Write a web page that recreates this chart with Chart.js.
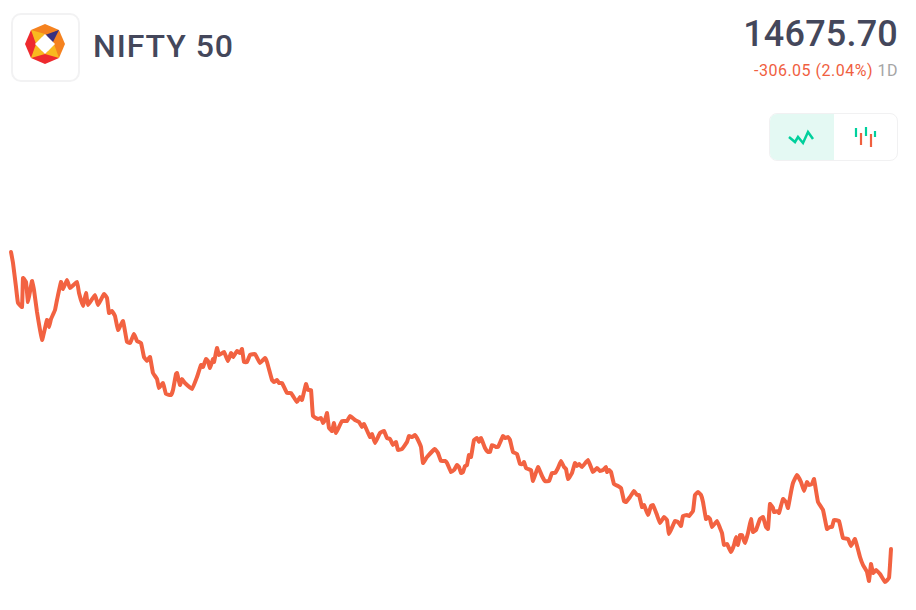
<!DOCTYPE html>
<html lang="en">
<head>
<meta charset="UTF-8">
<title>NIFTY 50</title>
<script src="https://cdn.jsdelivr.net/npm/chart.js"></script>
<style>
  html, body { margin: 0; padding: 0; background: #fff; }
  body { width: 916px; height: 610px; position: relative; overflow: hidden; font-family: Roboto, sans-serif; }
  .logo { position: absolute; left: 11px; top: 13px; width: 65px; height: 65px; border: 2px solid #f2f2f3; border-radius: 10px; }
  .name { position: absolute; left: 93px; top: 27px; font-size: 32px; line-height: 38px; font-weight: 500; letter-spacing: .95px; color: #44475b; }
  .price { position: absolute; right: 18px; top: 13px; font-size: 36px; line-height: 42px; font-weight: 500; letter-spacing: .2px; color: #44475b; }
  .change { position: absolute; right: 18px; top: 62px; font-size: 16px; line-height: 18px; letter-spacing: .5px; color: #f0603f; }
  .change span { color: #a5a5a5; }
  .toggle { position: absolute; left: 769px; top: 113px; width: 127px; height: 46px; border: 1px solid #f1f1f2; border-radius: 8px; overflow: hidden; }
  .toggle div { position: absolute; top: 0; height: 46px; }
  .toggle .on { left: 0; width: 64px; background: #e4f9f3; }
  #chart { position: absolute; left: 0; top: 200px; }
</style>
</head>
<body>
<div class="logo">
  <svg width="65" height="65" viewBox="13 15 65 65" style="display:block">
    <polygon points="45,24 59,30 52,37 45,37 38,37 31,30" fill="#f5821f"/>
    <polygon points="59,30 65,44 59,58 51,51 52,37" fill="#f5821f"/>
    <polygon points="31,30 25,44 31,58 38,51 38,37" fill="#ee2a2e"/>
    <polygon points="31,58 45,64 59,58 51,51 39,51" fill="#ee2a2e"/>
    <polygon points="59,30 45,35 52,37" fill="#38307f"/>
    <polygon points="59,30 52,44 46,36" fill="#38307f"/>
    <polygon points="31,30 45,34 36,44" fill="#f9b91f"/>
    <polygon points="31,58 36,44 45,54" fill="#f9b91f"/>
    <polygon points="59,58 54,44 45,54" fill="#f9b91f"/>
    <polygon points="45,34 55,44 45,54 35,44" fill="#fff"/>
  </svg>
</div>
<div class="name">NIFTY 50</div>
<div class="price">14675.70</div>
<div class="change">-306.05 (2.04%) <span>1D</span></div>
<div class="toggle">
  <div class="on"></div>
  <svg width="127" height="46" style="position:absolute;left:0;top:0">
    <polyline points="19,23 25,28 28,23 33,29 38,18 43,25" fill="none" stroke="#00d09c" stroke-width="2.5"/>
    <g stroke-width="2.2">
      <line x1="86" y1="14" x2="86" y2="23" stroke="#00d09c"/>
      <line x1="91" y1="19" x2="91" y2="31" stroke="#f0603f"/>
      <line x1="96" y1="13" x2="96" y2="22" stroke="#00d09c"/>
      <line x1="101" y1="20" x2="101" y2="33" stroke="#f0603f"/>
      <line x1="105" y1="17" x2="105" y2="23" stroke="#00d09c"/>
    </g>
  </svg>
</div>
<canvas id="chart" width="916" height="410"></canvas>

<script>
  // position along the session, and the index level
  var sessionPos = [1,3,6,8,12,13,16,18,22,24,27,32,37,39,41,45,47,51,53,57,60,67,69,73,76,78,85,88,94,97,
    99,102,105,108,113,117,120,124,127,131,134,137,140,143,147,149,153,156,161,163,166,167,170,172,175,182,187,191,193,196,
    198,200,203,204,207,209,214,218,221,223,227,230,232,234,237,240,245,250,255,257,262,264,267,269,272,277,281,287,290,292,
    296,298,301,303,308,311,313,315,317,319,322,324,326,332,337,340,345,349,352,354,360,362,365,370,374,377,380,383,386,388,
    392,397,399,402,405,407,411,413,417,425,428,431,435,437,441,444,447,449,451,453,455,457,459,461,464,467,469,471,475,478,
    480,482,486,488,493,495,498,500,503,507,510,513,514,516,518,521,523,528,532,535,539,542,545,548,551,554,556,558,562,565,
    567,569,572,578,583,587,590,593,596,597,599,601,604,608,611,614,616,620,624,627,629,632,634,638,641,643,647,650,654,657,
    659,665,668,671,673,677,679,683,685,688,691,693,696,698,700,702,707,710,712,714,717,721,724,726,728,730,732,735,738,741,
    743,746,750,753,756,758,760,763,764,768,769,773,776,778,781,783,787,791,794,797,799,802,804,808,813,817,820,822,824,829,
    833,838,841,845,850,853,857,859,861,863,866,870,875,879,881];
  var indexLevel = [14973,14962,14938,14922,14918,14947,14943,14923,14944,14935,14913,14885,14905,14898,14906,14915,14925,14943,14936,14945,14937,14943,14932,14919,14932,14920,14930,14920,14931,14927,
    14912,14914,14909,14895,14904,14883,14882,14891,14884,14882,14868,14864,14868,14852,14846,14837,14842,14831,14830,14835,14851,14852,14840,14846,14842,14836,14848,14860,14858,14866,
    14864,14857,14866,14863,14877,14870,14873,14864,14872,14868,14874,14872,14876,14863,14863,14870,14871,14862,14867,14863,14845,14843,14845,14842,14842,14832,14832,14823,14828,14825,
    14841,14835,14835,14809,14806,14807,14802,14805,14812,14797,14794,14802,14792,14804,14804,14809,14805,14803,14798,14801,14788,14791,14782,14792,14794,14787,14786,14780,14783,14775,
    14776,14783,14789,14788,14790,14787,14778,14762,14768,14776,14772,14764,14764,14762,14753,14755,14760,14758,14752,14753,14759,14760,14770,14768,14785,14787,14783,14787,14777,14773,
    14773,14780,14778,14778,14789,14787,14788,14785,14773,14771,14761,14761,14763,14757,14756,14755,14744,14758,14749,14744,14744,14752,14752,14757,14764,14758,14756,14746,14752,14762,
    14759,14761,14758,14765,14753,14757,14754,14755,14758,14753,14755,14753,14741,14739,14737,14724,14723,14728,14734,14730,14730,14718,14720,14710,14719,14720,14710,14702,14708,14705,
    14691,14704,14703,14699,14709,14710,14709,14714,14730,14733,14730,14723,14706,14708,14706,14698,14704,14697,14692,14680,14681,14673,14680,14688,14680,14690,14690,14682,14692,14706,
    14693,14695,14706,14708,14698,14696,14721,14717,14713,14714,14712,14726,14723,14717,14733,14742,14750,14743,14734,14743,14740,14741,14746,14723,14715,14696,14698,14698,14705,14704,
    14687,14686,14679,14686,14668,14660,14653,14644,14661,14652,14655,14651,14643,14647,14676];

  var points = sessionPos.map(function(p, i) { return { x: p, y: indexLevel[i] }; });

  new Chart(document.getElementById("chart"), {
    type: 'scatter',
    data: {
      datasets: [{
        data: points,
        showLine: true,
        borderColor: '#f26241',
        borderWidth: 4,
        pointRadius: 0,
        tension: 0.1,
        borderJoinStyle: 'round',
        borderCapStyle: 'round'
      }]
    },
    options: {
      responsive: false,
      animation: false,
      layout: { padding: 0 },
      plugins: { legend: { display: false }, tooltip: { enabled: false } },
      scales: {
        x: { type: 'linear', min: -10, max: 906, display: false },
        y: { min: 14615, max: 15025, display: false }
      }
    }
  });
</script>
</body>
</html>
